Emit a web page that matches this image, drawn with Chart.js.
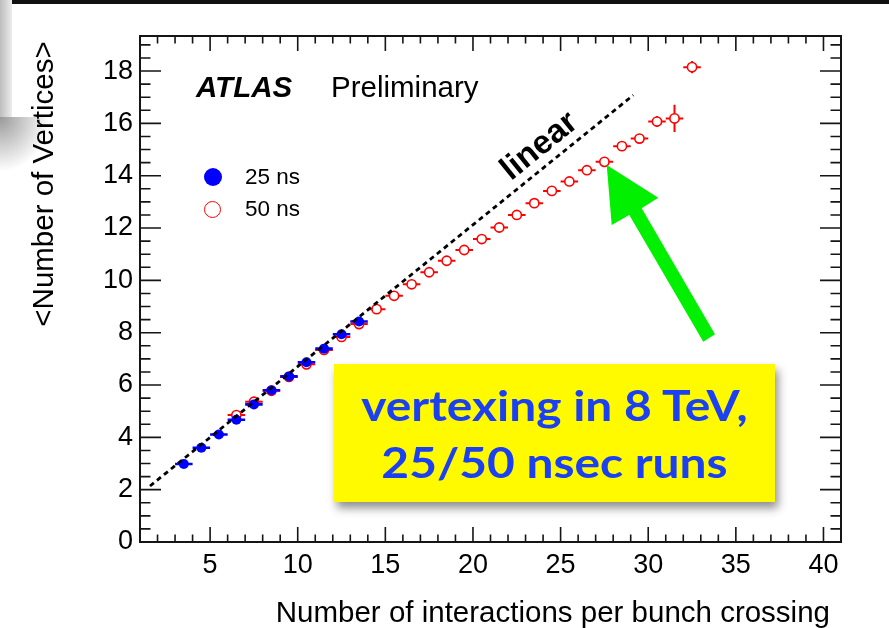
<!DOCTYPE html>
<html lang="en">
<head>
<meta charset="UTF-8">
<title>Vertices vs pile-up</title>
<script src="https://cdn.jsdelivr.net/npm/chart.js@4.4.1/dist/chart.umd.min.js"></script>
<style>
  body { margin: 0; background: #fff; }
  .wrap { position: relative; width: 889px; height: 628px; overflow: hidden; font-family: "Liberation Sans", Arial, sans-serif; }
  .wrap canvas { position: absolute; left: 0; top: 0; }
  .txt { position: absolute; white-space: nowrap; color: #000; }
  .note { position: absolute; left: 334px; top: 364px; width: 441px; height: 138px; background: #fffa00;
          box-shadow: 3px 6px 9px rgba(0,0,0,0.45); }
  .note div { position: absolute; left: 0; width: 441px; text-align: center; font-family: Lato, sans-serif;
              font-weight: bold; font-size: 42px; line-height: 42px; color: #1a40f2;
              transform: scaleX(1.14); transform-origin: 50% 50%; }
</style>
</head>
<body>
<div class="wrap">
  <canvas id="grafico" width="889" height="628"></canvas>

  <!-- slide decorations -->
  <div style="position:absolute;left:12px;top:0;width:877px;height:4px;background:#111"></div>
  <div style="position:absolute;left:0;top:0;width:12px;height:117px;background:linear-gradient(to right,#bdbdbd,#ededed)"></div>
  <div style="position:absolute;left:0;top:117px;width:50px;height:55px;background:radial-gradient(ellipse at top left,rgba(110,110,110,0.7),rgba(255,255,255,0) 70%)"></div>

  <!-- axis titles -->
  <div class="txt" style="left:-117px;top:169px;width:320px;height:30px;line-height:30px;font-size:29.5px;text-align:center;transform:rotate(-90deg)">&lt;Number of Vertices&gt;</div>
  <div class="txt" style="right:59px;top:597px;font-size:29.5px;line-height:29.5px">Number of interactions per bunch crossing</div>

  <!-- labels inside the frame -->
  <div class="txt" style="left:196px;top:72px;font-size:29.5px;line-height:29.5px;font-weight:bold;font-style:italic">ATLAS</div>
  <div class="txt" style="left:331px;top:72px;font-size:29.5px;line-height:29.5px">Preliminary</div>

  <span style="position:absolute;left:204px;top:168px;width:18px;height:18px;border-radius:50%;background:#0000ff"></span>
  <span style="position:absolute;left:204px;top:201px;width:15px;height:15px;border-radius:50%;border:1.6px solid #ff0000;background:#fff"></span>
  <div class="txt" style="left:245px;top:166px;font-size:22.5px;line-height:22.5px">25 ns</div>
  <div class="txt" style="left:245px;top:198px;font-size:22.5px;line-height:22.5px">50 ns</div>

  <div class="txt" style="left:478px;top:128px;width:120px;text-align:center;font-size:33px;line-height:33px;font-weight:bold;transform:rotate(-39deg)">linear</div>

  <svg style="position:absolute;left:0;top:0" width="889" height="628">
    <polygon points="606.7,165 611.7,225 629.3,215 703.3,341.7 715,334.3 641.7,208.3 658.3,197.7" fill="#00f000"/>
  </svg>

  <div class="note">
    <div style="top:20px">vertexing in 8 TeV,</div>
    <div style="top:77px">25/50 nsec runs</div>
  </div>
</div>

<script>
// 25 ns runs
const mu25 = [3.5, 4.5, 5.5, 6.5, 7.5, 8.5, 9.5, 10.5, 11.5, 12.5, 13.5];
const vtx25 = [2.98, 3.60, 4.11, 4.67, 5.26, 5.80, 6.33, 6.87, 7.39, 7.94, 8.43];
const err25 = [0.05, 0.05, 0.05, 0.05, 0.05, 0.05, 0.05, 0.05, 0.05, 0.05, 0.05];

// 50 ns runs
const mu50 = [6.5, 7.5, 8.5, 9.5, 10.5, 11.5, 12.5, 13.5, 14.5, 15.5, 16.5, 17.5, 18.5, 19.5,
              20.5, 21.5, 22.5, 23.5, 24.5, 25.5, 26.5, 27.5, 28.5, 29.5, 30.5, 31.5, 32.5];
const vtx50 = [4.85, 5.36, 5.78, 6.31, 6.79, 7.34, 7.84, 8.33, 8.90, 9.41, 9.85, 10.31, 10.75, 11.16,
               11.58, 12.02, 12.50, 12.95, 13.42, 13.78, 14.21, 14.53, 15.13, 15.42, 16.07, 16.19, 18.15];
const err50 = [0.05, 0.05, 0.05, 0.05, 0.05, 0.05, 0.05, 0.05, 0.05, 0.05, 0.05, 0.05, 0.05, 0.05,
               0.05, 0.05, 0.05, 0.05, 0.05, 0.05, 0.05, 0.05, 0.12, 0.12, 0.21, 0.52, 0.23];

// dashed "linear" reference line
const linMu = [1.57, 29.15];
const linVtx = [2.14, 17.08];

const xTicks = [5, 10, 15, 20, 25, 30, 35, 40];
const yTicks = [0, 2, 4, 6, 8, 10, 12, 14, 16, 18];

function pontos(xs, ys) {
    return xs.map((v, i) => ({ x: v, y: ys[i] }));
}

// ROOT style frame with inward ticks on all four sides
const moldura = {
    id: 'moldura',
    beforeDatasetsDraw(chart) {
        const { ctx, chartArea: a, scales: { x, y } } = chart;
        ctx.save();
        ctx.strokeStyle = '#151515';
        ctx.lineWidth = 1.6;
        ctx.beginPath();
        for (let v = 1; v <= 41; v++) {
            const px = x.getPixelForValue(v);
            const len = v % 5 === 0 ? 15 : 7.5;
            ctx.moveTo(px, a.bottom); ctx.lineTo(px, a.bottom - len);
            ctx.moveTo(px, a.top); ctx.lineTo(px, a.top + len);
        }
        for (let v = 0; v <= 19; v += 0.5) {
            const py = y.getPixelForValue(v);
            const len = v % 2 === 0 ? 21 : 10.5;
            ctx.moveTo(a.left, py); ctx.lineTo(a.left + len, py);
            ctx.moveTo(a.right, py); ctx.lineTo(a.right - len, py);
        }
        ctx.stroke();
        ctx.lineWidth = 2;
        ctx.strokeRect(a.left, a.top, a.width, a.height);
        ctx.restore();
    }
};

// error bars: bin width in x, statistical error in y
const barras = {
    id: 'barras',
    beforeDatasetDraw(chart, args) {
        const ds = chart.data.datasets[args.index];
        if (!ds.yErr) return;
        const { ctx, scales: { x, y } } = chart;
        ctx.save();
        ctx.strokeStyle = ds.borderColor;
        ctx.lineWidth = ds.barWidth;
        ctx.beginPath();
        ds.data.forEach((p, i) => {
            const px = x.getPixelForValue(p.x);
            const py = y.getPixelForValue(p.y);
            ctx.moveTo(x.getPixelForValue(p.x - 0.5), py);
            ctx.lineTo(x.getPixelForValue(p.x + 0.5), py);
            ctx.moveTo(px, y.getPixelForValue(p.y - ds.yErr[i]));
            ctx.lineTo(px, y.getPixelForValue(p.y + ds.yErr[i]));
        });
        ctx.stroke();
        ctx.restore();
    }
};

const fonte = { family: '"Liberation Sans", Arial, sans-serif', size: 27 };

new Chart(document.getElementById('grafico'), {
    type: 'scatter',
    data: {
        datasets: [
            {
                type: 'line',
                label: 'linear',
                data: pontos(linMu, linVtx),
                borderColor: '#000',
                borderWidth: 2.8,
                borderDash: [5, 4],
                pointRadius: 0,
                fill: false
            },
            {
                label: '25 ns',
                data: pontos(mu25, vtx25),
                yErr: err25,
                barWidth: 2.6,
                backgroundColor: '#0000ff',
                borderColor: '#0000ff',
                pointRadius: 5,
                borderWidth: 0
            },
            {
                label: '50 ns',
                data: pontos(mu50, vtx50),
                yErr: err50,
                barWidth: 2,
                backgroundColor: '#ffffff',
                borderColor: '#ff0000',
                pointRadius: 4.6,
                borderWidth: 1.6
            }
        ]
    },
    options: {
        responsive: false,
        animation: false,
        devicePixelRatio: 1,
        layout: { padding: { left: 0, top: 36, right: 48, bottom: 0 } },
        plugins: { legend: { display: false }, tooltip: { enabled: false } },
        scales: {
            x: {
                type: 'linear',
                min: 1,
                max: 41,
                grid: { display: false, drawTicks: false },
                border: { display: false },
                afterBuildTicks: (axis) => { axis.ticks = xTicks.map(v => ({ value: v })); },
                afterFit: (axis) => { axis.height = 86; },
                ticks: { color: '#000', font: fonte, padding: 7, maxRotation: 0 }
            },
            y: {
                type: 'linear',
                min: 0,
                max: 19.34,
                grid: { display: false, drawTicks: false },
                border: { display: false },
                afterBuildTicks: (axis) => { axis.ticks = yTicks.map(v => ({ value: v })); },
                afterFit: (axis) => { axis.width = 140; },
                ticks: { color: '#000', font: fonte, padding: 7 }
            }
        }
    },
    plugins: [moldura, barras]
});
</script>
</body>
</html>
